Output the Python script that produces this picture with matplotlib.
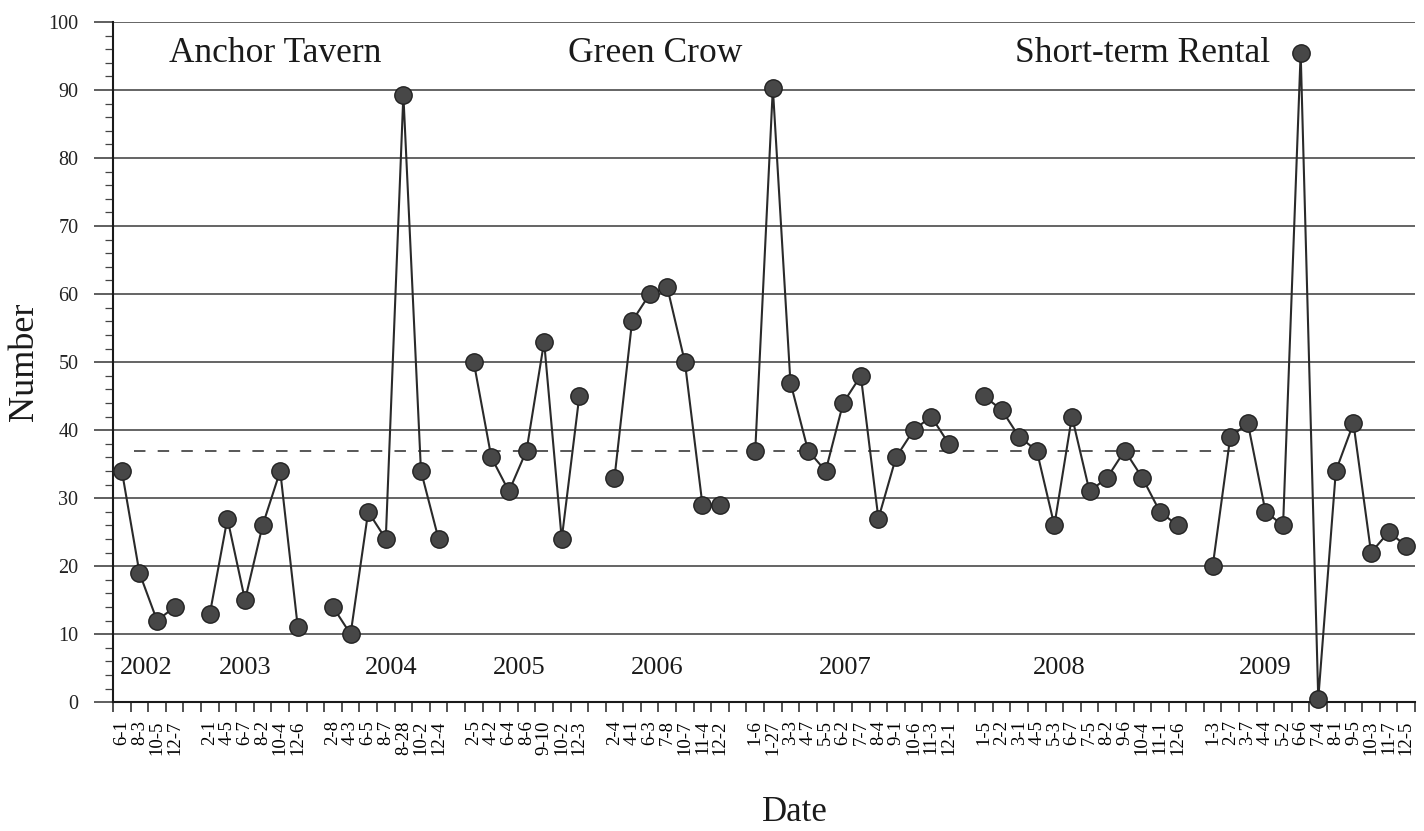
import matplotlib
matplotlib.use("Agg")
import matplotlib.pyplot as plt
from matplotlib.ticker import MultipleLocator, FixedLocator

# ---------------- data ----------------
years = ["2002", "2003", "2004", "2005", "2006", "2007", "2008", "2009"]

labels_2002 = ["6-1", "8-3", "10-5", "12-7"]
values_2002 = [34, 19, 12, 14]
labels_2003 = ["2-1", "4-5", "6-7", "8-2", "10-4", "12-6"]
values_2003 = [13, 27, 15, 26, 34, 11]
labels_2004 = ["2-8", "4-3", "6-5", "8-7", "8-28", "10-2", "12-4"]
values_2004 = [14, 10, 28, 24, 89.3, 34, 24]
labels_2005 = ["2-5", "4-2", "6-4", "8-6", "9-10", "10-2", "12-3"]
values_2005 = [50, 36, 31, 37, 53, 24, 45]
labels_2006 = ["2-4", "4-1", "6-3", "7-8", "10-7", "11-4", "12-2"]
values_2006 = [33, 56, 60, 61, 50, 29, 29]
labels_2007 = ["1-6", "1-27", "3-3", "4-7", "5-5", "6-2", "7-7", "8-4", "9-1", "10-6", "11-3", "12-1"]
values_2007 = [37, 90.3, 47, 37, 34, 44, 48, 27, 36, 40, 42, 38]
labels_2008 = ["1-5", "2-2", "3-1", "4-5", "5-3", "6-7", "7-5", "8-2", "9-6", "10-4", "11-1", "12-6"]
values_2008 = [45, 43, 39, 37, 26, 42, 31, 33, 37, 33, 28, 26]
labels_2009 = ["1-3", "2-7", "3-7", "4-4", "5-2", "6-6", "7-4", "8-1", "9-5", "10-3", "11-7", "12-5"]
values_2009 = [20, 39, 41, 28, 26, 95.5, 0.5, 34, 41, 22, 25, 23]

mean_value = 37
venue_names = ["Anchor Tavern", "Green Crow", "Short-term Rental"]

groups = [
    (labels_2002, values_2002), (labels_2003, values_2003),
    (labels_2004, values_2004), (labels_2005, values_2005),
    (labels_2006, values_2006), (labels_2007, values_2007),
    (labels_2008, values_2008), (labels_2009, values_2009),
]

# ---------------- layout (category slots, one blank slot between years) ----------------
tick_labels = []
group_x = []
slot = 0
for gi, (labs, vals) in enumerate(groups):
    if gi > 0:
        tick_labels.append("")
        slot += 1
    xs = []
    for lab in labs:
        tick_labels.append(lab)
        xs.append(slot)
        slot += 1
    group_x.append(xs)
n_slots = len(tick_labels)

year_label_x = [1.4, 7.0, 15.3, 22.6, 30.4, 41.1, 53.3, 65.0]
venue_x = [8.7, 30.3, 58.0]

# ---------------- figure ----------------
plt.rcParams['font.family'] = ['Liberation Serif', 'DejaVu Serif']

fig = plt.figure(figsize=(14.24, 8.31), dpi=100)
ax = fig.add_axes([0.0794, 0.155, 0.9143, 0.8185])

ax.set_xlim(-0.5, n_slots - 0.5)
ax.set_ylim(0, 100)

# grid
ax.yaxis.set_major_locator(MultipleLocator(10))
ax.yaxis.set_minor_locator(MultipleLocator(2))
ax.yaxis.grid(True, which='major', color='#3a3a3a', lw=1.1)
ax.set_axisbelow(True)

# mean dashed line
ax.plot([0.7, 63.4], [mean_value, mean_value], color='#2a2a2a', lw=1.1,
        linestyle=(0, (7.5, 8)), zorder=2)

# series
for xs, (labs, vals) in zip(group_x, groups):
    ax.plot(xs, vals, color='#2a2a2a', lw=1.5, marker='o', ms=12.5,
            mfc='#474747', mec='#222222', mew=1.0, zorder=4, clip_on=False)

# x ticks
ax.xaxis.set_major_locator(FixedLocator(list(range(n_slots))))
ax.set_xticklabels(tick_labels, rotation=90, fontsize=13.5)
ax.xaxis.set_minor_locator(FixedLocator([i - 0.5 for i in range(n_slots + 1)]))
ax.tick_params(axis='x', which='major', length=0, pad=13)
ax.tick_params(axis='x', which='minor', length=7.5, width=1.1, color='#222222', direction='out')

# y ticks
ax.tick_params(axis='y', which='major', length=14, width=1.1, color='#333333',
               direction='out', pad=11, labelsize=14.5, labelcolor='#222222')
ax.tick_params(axis='y', which='minor', length=6, width=0.9, color='#444444', direction='out')

for s in ['top', 'right']:
    ax.spines[s].set_visible(False)
for s in ['left', 'bottom']:
    ax.spines[s].set_linewidth(1.5)
    ax.spines[s].set_color('#1a1a1a')

# year labels
for yx, yl in zip(year_label_x, years):
    ax.text(yx, 5, yl, fontsize=19, ha='center', va='center', color='#1a1a1a')

# venue labels
for vx, vn in zip(venue_x, venue_names):
    ax.text(vx, 95.3, vn, fontsize=25.5, ha='center', va='center', color='#1a1a1a')

# axis titles
fig.text(24 / 1424, 1 - 362 / 831, "Number", rotation=90, fontsize=26,
         ha='center', va='center', color='#1a1a1a')
ax.text(0.524, -0.162, "Date", transform=ax.transAxes, fontsize=25,
        ha='center', va='center', color='#1a1a1a')

fig.savefig("out.png", dpi=100, facecolor='white')
